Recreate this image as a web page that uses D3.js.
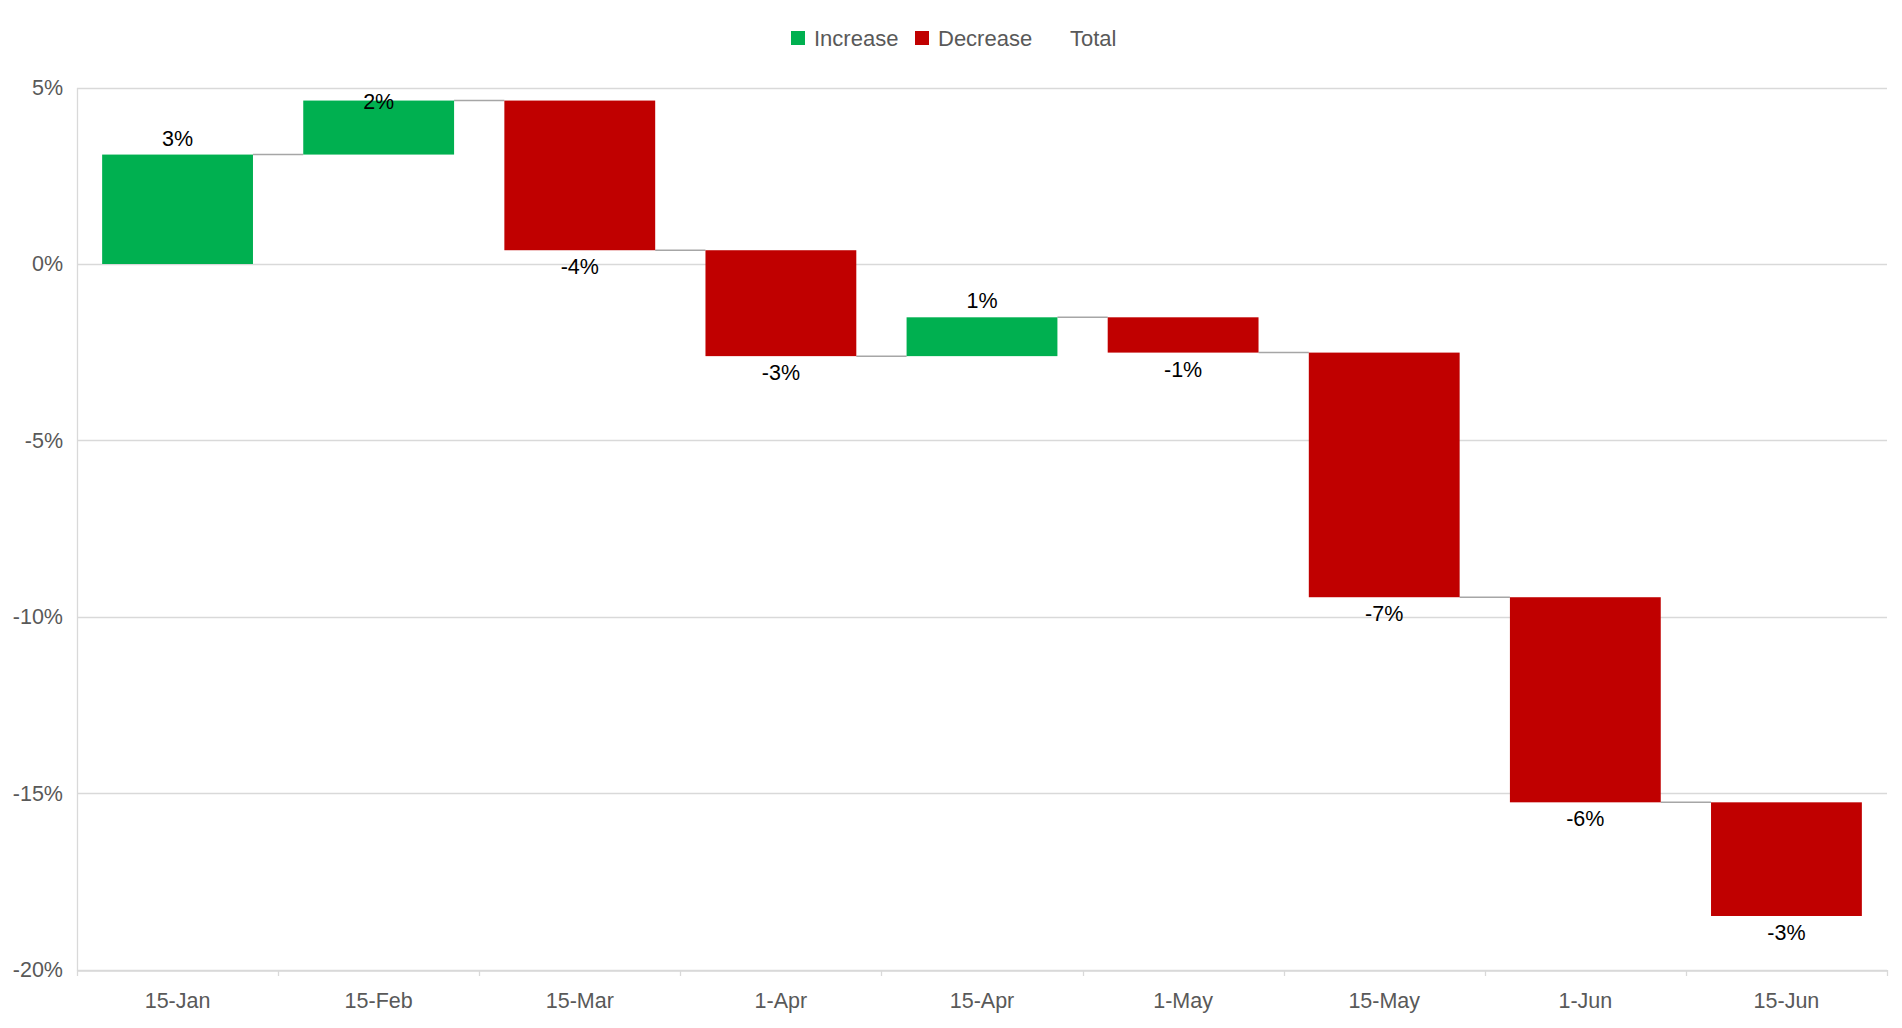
<!DOCTYPE html>
<html>
<head>
<meta charset="utf-8">
<script src="https://cdn.jsdelivr.net/npm/d3@7"></script>
<style>
  html, body { margin: 0; padding: 0; background: #fff; }
  svg { display: block; font-family: "Liberation Sans", Arial, sans-serif; }
</style>
</head>
<body>
<svg id="chart" width="1902" height="1028"></svg>
<script>
// ---- data ----
const categories = ["15-Jan", "15-Feb", "15-Mar", "1-Apr", "15-Apr", "1-May", "15-May", "1-Jun", "15-Jun"];
const changes = [0.031, 0.0153, -0.0424, -0.030, 0.011, -0.010, -0.0693, -0.0581, -0.0322];
const yTicks = [0.05, 0, -0.05, -0.10, -0.15, -0.20];
const legendItems = ["Increase", "Decrease", "Total"];
const legendColors = ["#00B050", "#C00000", "none"];

(function () {
// ---- layout ----
const svg = d3.select("#chart");
const pLeft = 77, pRight = 1887, pTop = 87.5, pBottom = 970;
const incColor = "#00B050", decColor = "#C00000";

// cumulative
let cum = 0;
const bars = categories.map((c, i) => {
  const start = cum;
  cum += changes[i];
  return { cat: c, start, end: cum, change: changes[i] };
});

const x = d3.scaleBand().domain(categories).range([pLeft, pRight]).paddingInner(0.25).paddingOuter(0.125);
const y = d3.scaleLinear().domain([-0.20, 0.05]).range([pBottom, pTop]);
const fmt = d3.format(".0%");
const pct = v => fmt(v).replace("\u2212", "-");

// gridlines
svg.append("g").selectAll("line").data(yTicks).join("line")
  .attr("x1", pLeft).attr("x2", pRight)
  .attr("y1", d => Math.round(y(d)) + 0.5).attr("y2", d => Math.round(y(d)) + 0.5)
  .attr("stroke", "#d9d9d9").attr("stroke-width", 1.3);

// y axis
const yAxis = svg.append("g").attr("transform", `translate(${pLeft},0)`)
  .call(d3.axisLeft(y).tickValues(yTicks).tickFormat(pct).tickSize(0).tickPadding(14));
yAxis.select(".domain").attr("stroke", "#d9d9d9").attr("stroke-width", 1.3);
yAxis.selectAll("text").attr("fill", "#595959").style("font-size", "21.5px")
  .style("font-family", "'Liberation Sans', Arial, sans-serif");

// x axis
const xAxis = svg.append("g").attr("transform", `translate(0,${Math.round(y(-0.20)) + 0.5})`)
  .call(d3.axisBottom(x).tickSize(0).tickPadding(22));
xAxis.select(".domain").attr("stroke", "#d9d9d9").attr("stroke-width", 1.3);
xAxis.selectAll("text").attr("fill", "#595959").style("font-size", "21.5px")
  .style("font-family", "'Liberation Sans', Arial, sans-serif");
// boundary tick marks
const boundaries = d3.range(categories.length + 1).map(i => pLeft + i * (pRight - pLeft) / categories.length);
svg.append("g").selectAll("line").data(boundaries).join("line")
  .attr("x1", d => Math.round(d) + 0.5).attr("x2", d => Math.round(d) + 0.5)
  .attr("y1", y(-0.20)).attr("y2", y(-0.20) + 6)
  .attr("stroke", "#d9d9d9").attr("stroke-width", 1.3);

// connectors
svg.append("g").selectAll("line").data(bars.slice(0, -1)).join("line")
  .attr("x1", d => x(d.cat) + x.bandwidth())
  .attr("x2", (d, i) => x(categories[i + 1]))
  .attr("y1", d => y(d.end)).attr("y2", d => y(d.end))
  .attr("stroke", "#a6a6a6").attr("stroke-width", 1.5);

// bars
svg.append("g").selectAll("rect").data(bars).join("rect")
  .attr("x", d => x(d.cat))
  .attr("width", x.bandwidth())
  .attr("y", d => y(Math.max(d.start, d.end)))
  .attr("height", d => Math.abs(y(d.start) - y(d.end)))
  .attr("fill", d => d.change >= 0 ? incColor : decColor);

// labels
svg.append("g").selectAll("text").data(bars).join("text")
  .attr("x", d => x(d.cat) + x.bandwidth() / 2)
  .attr("y", d => {
    if (d.change >= 0) {
      return Math.max(y(d.end) - 16, pTop + 14);
    }
    return y(d.end) + 17;
  })
  .attr("text-anchor", "middle")
  .attr("dominant-baseline", "central")
  .attr("fill", "#000")
  .style("font-size", "21.5px")
  .text(d => pct(d.change));

// legend
const legendPos = [
  { sx: 791, tx: 814 },
  { sx: 915, tx: 938 },
  { sx: 1047, tx: 1070 }
];
const lg = svg.append("g");
legendItems.forEach((name, i) => {
  if (legendColors[i] !== "none") {
    lg.append("rect").attr("x", legendPos[i].sx).attr("y", 31).attr("width", 14).attr("height", 14)
      .attr("fill", legendColors[i]);
  }
  lg.append("text").attr("x", legendPos[i].tx).attr("y", 38.5)
    .attr("dominant-baseline", "central")
    .attr("fill", "#595959").style("font-size", "22px").text(name);
});
})();
</script>
</body>
</html>
